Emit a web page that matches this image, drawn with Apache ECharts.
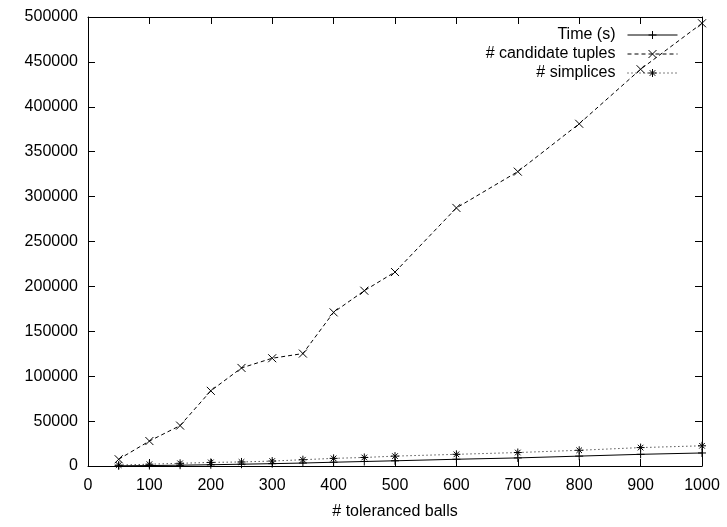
<!DOCTYPE html>
<html>
<head>
<meta charset="utf-8">
<script src="https://cdn.jsdelivr.net/npm/echarts@6/dist/echarts.min.js"></script>
<style>
  html, body { margin: 0; padding: 0; background: #fff; }
  #chart { width: 727px; height: 527px; }
</style>
</head>
<body>
<div id="chart"></div>
<script>
// x values: number of toleranced balls
const balls = [50, 100, 150, 200, 250, 300, 350, 400, 450, 500, 600, 700, 800, 900, 1000];
const timeSec = [200, 500, 900, 1400, 2000, 2600, 3300, 4200, 5000, 5800, 7500, 9000, 11000, 13000, 14500];
const candidateTuples = [7500, 27800, 45000, 83700, 109200, 120000, 125200, 171100, 195200, 216000, 287400, 327800, 381100, 441800, 493000];
const simplices = [1000, 2000, 3000, 4000, 4500, 5500, 7000, 8500, 9500, 11000, 13000, 15000, 17500, 20500, 22500];
const seriesNames = ["Time (s)", "# candidate tuples", "# simplices"];

const FONT = "'Liberation Sans', Arial, Helvetica, sans-serif";
const plusPath = "path://M5,0 L5,10 M0,5 L10,5";
const crossPath = "path://M0,0 L10,10 M10,0 L0,10";
const starPath = "path://M5,0 L5,10 M0,5 L10,5 M1.5,1.5 L8.5,8.5 M8.5,1.5 L1.5,8.5";

const pairs = (ys) => balls.map((x, i) => [x, ys[i]]);

const makeSeries = (name, ys, symbol, dash) => ({
  name: name,
  type: "line",
  data: pairs(ys),
  symbol: symbol,
  symbolSize: 8,
  showSymbol: true,
  lineStyle: { color: "#000", width: 1, type: dash },
  itemStyle: { color: "#000", borderColor: "#000", borderWidth: 1 },
  emphasis: { disabled: true },
});

const plainNum = (v) => String(v);
const axisLine = { show: true, onZero: false, lineStyle: { color: "#000", width: 1 } };
const noTick = { show: false };
const TICK = 7;

// gnuplot ticks point into the plot: extra axes shifted inward,
// with an invisible line, draw outward ticks that end on the frame
const xRange = { type: "value", min: 0, max: 1000, interval: 100 };
const yRange = { type: "value", min: 0, max: 500000, interval: 50000 };
const tickAxis = (range, position) => Object.assign({}, range, {
  position: position,
  offset: -TICK,
  axisLine: { show: true, onZero: false, lineStyle: { color: "rgba(0,0,0,0)", width: 1 } },
  axisTick: { show: true, length: TICK, lineStyle: { color: "#000", width: 1 } },
  axisLabel: { show: false },
  splitLine: { show: false },
});

const chart = echarts.init(document.getElementById("chart"));
chart.setOption({
  animation: false,
  textStyle: { fontFamily: FONT },
  grid: { left: 88, right: 25, top: 17, bottom: 61 },
  legend: {
    orient: "vertical",
    right: 44,
    top: 22,
    align: "right",
    itemWidth: 50,
    itemHeight: 10,
    itemGap: 3,
    lineStyle: { width: 1 },
    itemStyle: { borderWidth: 1 },
    textStyle: { fontSize: 16, color: "#000", fontFamily: FONT, padding: [0, 7, 0, 0] },
    data: seriesNames,
  },
  xAxis: [
    Object.assign({}, xRange, {
      position: "bottom",
      name: "# toleranced balls",
      nameLocation: "middle",
      nameGap: 38,
      nameTextStyle: { fontSize: 16, color: "#000" },
      axisLine: axisLine,
      axisTick: noTick,
      axisLabel: { fontSize: 16, color: "#000", margin: 12, formatter: plainNum },
      splitLine: { show: false },
    }),
    Object.assign({}, xRange, {
      position: "top",
      axisLine: axisLine,
      axisTick: noTick,
      axisLabel: { show: false },
      splitLine: { show: false },
    }),
    tickAxis(xRange, "bottom"),
    tickAxis(xRange, "top"),
  ],
  yAxis: [
    Object.assign({}, yRange, {
      position: "left",
      axisLine: axisLine,
      axisTick: noTick,
      axisLabel: { fontSize: 16, color: "#000", margin: 10, formatter: plainNum },
      splitLine: { show: false },
    }),
    Object.assign({}, yRange, {
      position: "right",
      axisLine: axisLine,
      axisTick: noTick,
      axisLabel: { show: false },
      splitLine: { show: false },
    }),
    tickAxis(yRange, "left"),
    tickAxis(yRange, "right"),
  ],
  series: [
    makeSeries(seriesNames[0], timeSec, plusPath, "solid"),
    makeSeries(seriesNames[1], candidateTuples, crossPath, [4, 3]),
    makeSeries(seriesNames[2], simplices, starPath, [1, 3]),
  ],
});
</script>
</body>
</html>
